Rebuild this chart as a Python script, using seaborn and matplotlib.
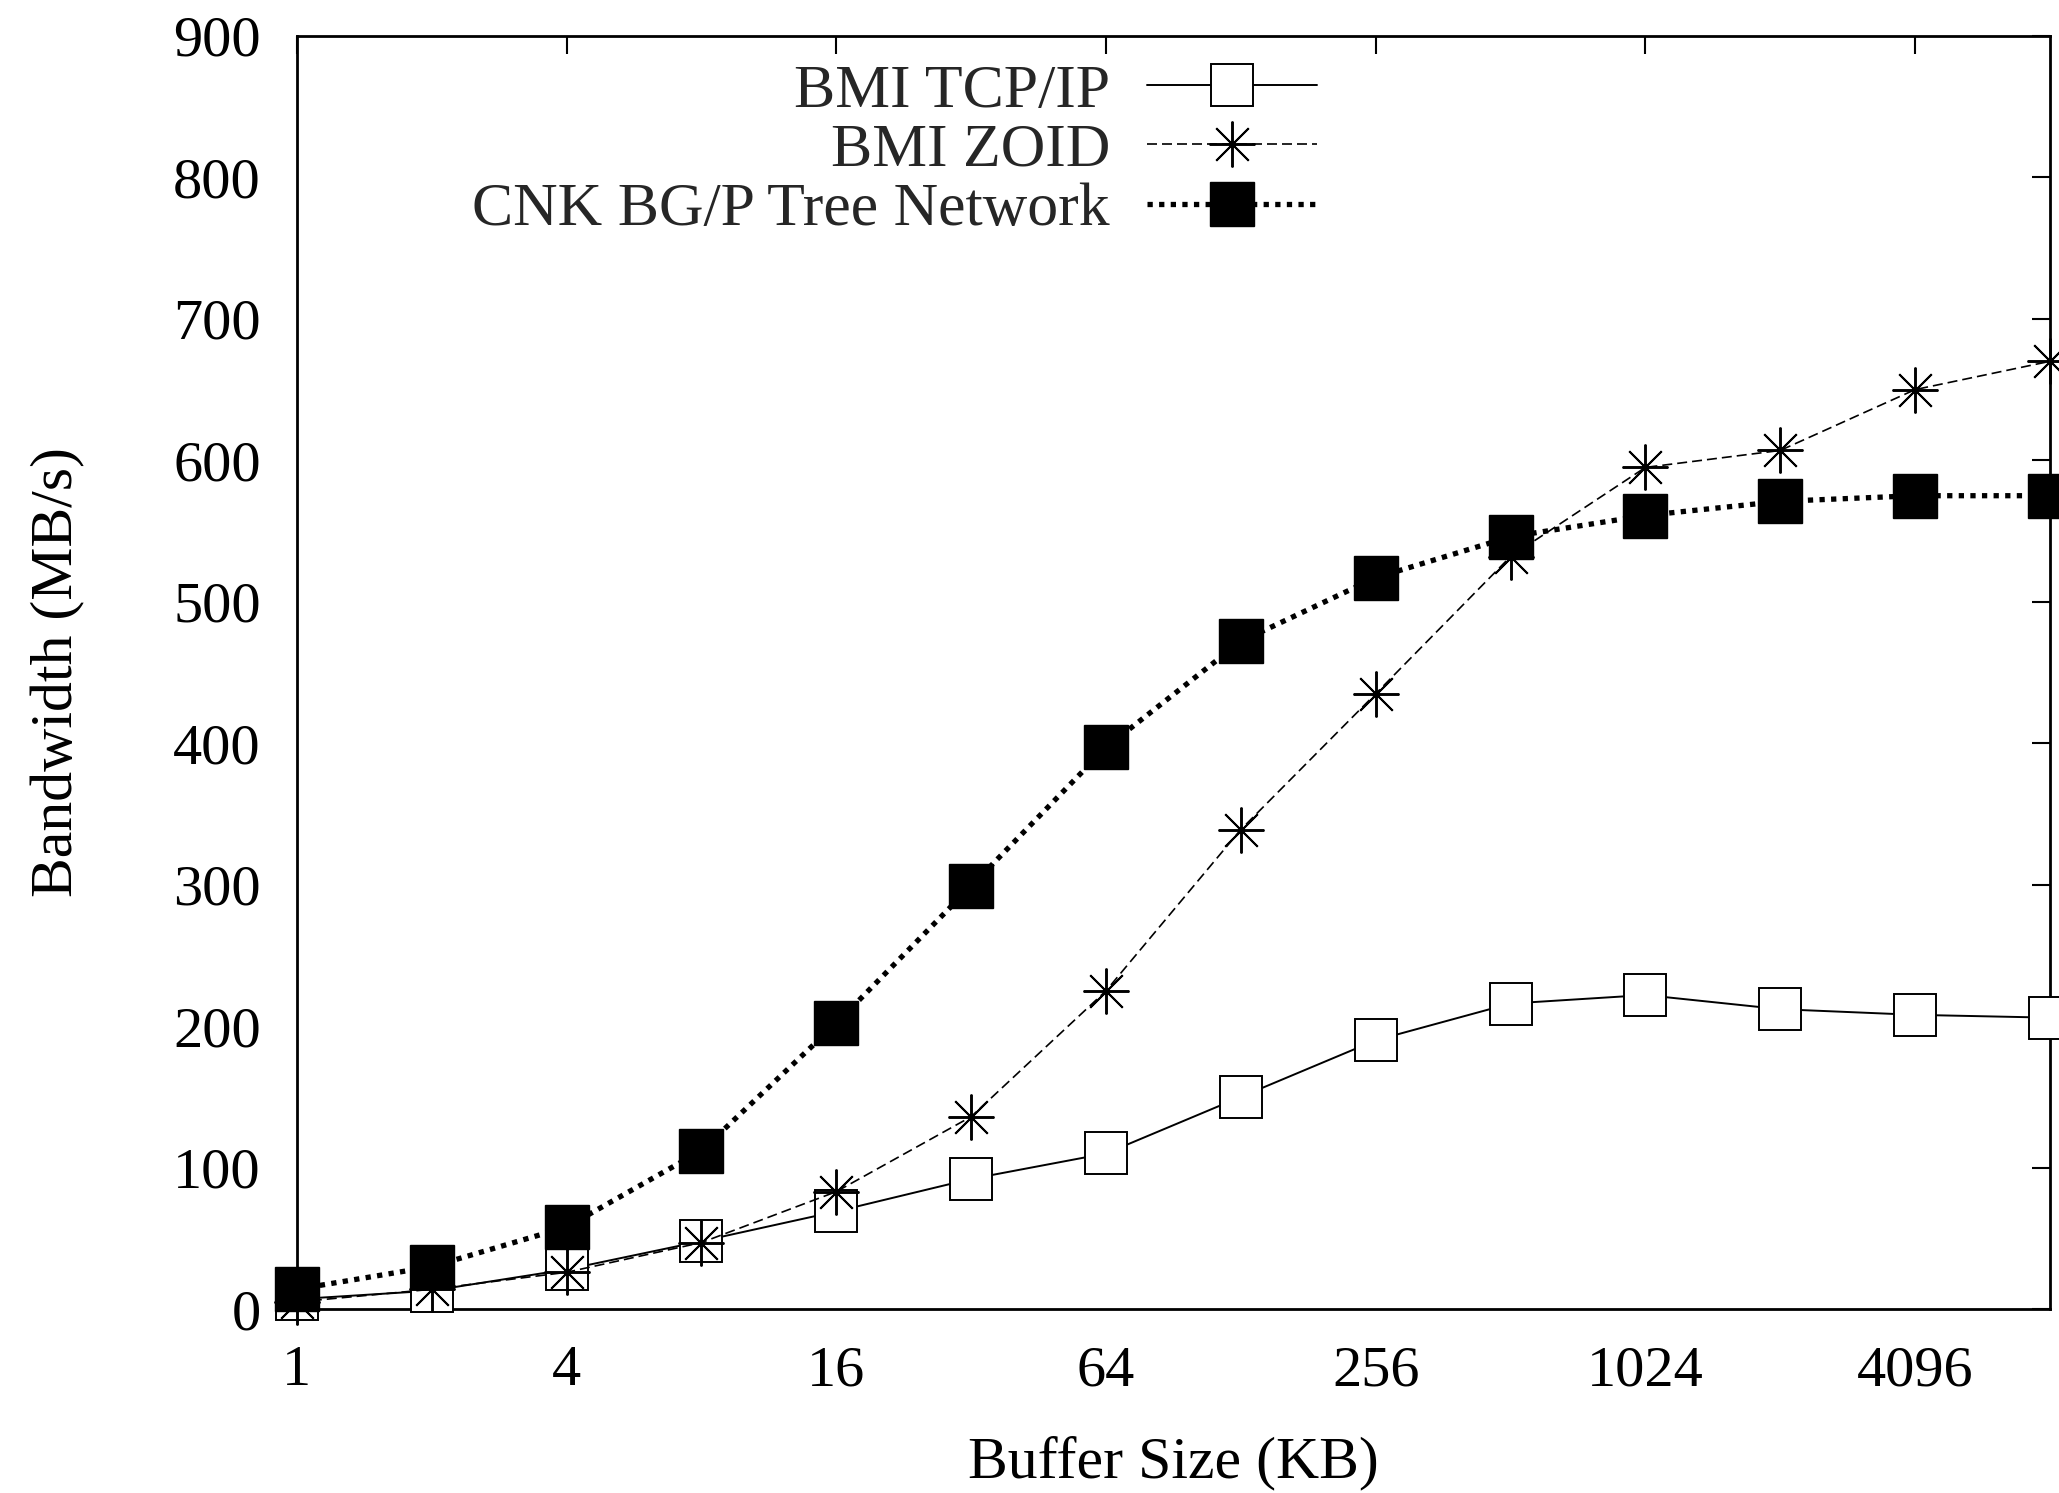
import matplotlib
matplotlib.use("Agg")
import matplotlib.pyplot as plt
import seaborn as sns
import numpy as np
import pandas as pd

sizes_kb = [1, 2, 4, 8, 16, 32, 64, 128, 256, 512, 1024, 2048, 4096, 8192]
bmi_tcp = [7, 13, 28, 48, 69, 92, 110, 150, 190, 216, 222, 212, 208, 206]
bmi_zoid = [5, 14, 26, 47, 83, 136, 225, 339, 435, 532, 595, 607, 650, 670]
cnk_tree = [14, 30, 58, 112, 202, 299, 397, 472, 517, 546, 561, 571, 575, 575]
series_names = ["BMI TCP/IP", "BMI ZOID", "CNK BG/P Tree Network"]
xticks = [1, 4, 16, 64, 256, 1024, 4096]
yticks = [0, 100, 200, 300, 400, 500, 600, 700, 800, 900]

sns.set_theme(style="white")
plt.rcParams["font.family"] = ["Liberation Serif", "DejaVu Serif"]

FS = 42
LFS = 44.5

fig = plt.figure(figsize=(20.59, 14.93), dpi=100)
ax = fig.add_axes([0.1442, 0.1232, 0.8514, 0.8527])

styles = [
    dict(marker="s", linestyle="-", linewidth=1.4, markersize=30,
         markerfacecolor="white", markeredgecolor="black", markeredgewidth=1.4),
    dict(marker=(8, 2, 0), linestyle=(0, (6, 3)), linewidth=1.2, markersize=33,
         markerfacecolor="black", markeredgecolor="black", markeredgewidth=1.4),
    dict(marker="s", linestyle=(0, (1.0, 1.2)), linewidth=3.8, markersize=32,
         markerfacecolor="black", markeredgecolor="black", markeredgewidth=1.0),
]

for name, vals, st in zip(series_names, [bmi_tcp, bmi_zoid, cnk_tree], styles):
    df = pd.DataFrame({"size": sizes_kb, "bw": vals})
    sns.lineplot(data=df, x="size", y="bw", ax=ax, color="black", label=name,
                 clip_on=False, zorder=3, **st)

ax.set_xscale("log", base=2)
ax.set_xlim(1, 8192)
ax.set_ylim(0, 900)
ax.set_xticks(xticks)
ax.set_xticklabels([str(t) for t in xticks])
ax.set_yticks(yticks)
ax.set_yticklabels([str(t) for t in yticks])
ax.minorticks_off()
ax.tick_params(axis="both", which="major", direction="in", length=13, width=1.5,
               top=True, right=True, labelsize=FS, pad=26, color="black",
               labelcolor="black")

for sp in ax.spines.values():
    sp.set_visible(True)
    sp.set_color("black")
    sp.set_linewidth(2.0)

ax.set_xlabel("Buffer Size (KB)", fontsize=43, labelpad=28, color="black")
ax.set_ylabel("Bandwidth (MB/s)", fontsize=43, labelpad=63, color="black")

leg = ax.legend(loc="upper right", bbox_to_anchor=(0.596, 0.998), frameon=False,
                fontsize=LFS, markerfirst=False, handlelength=2.75,
                handletextpad=0.6, labelspacing=0.05, borderaxespad=0.0)
for t in leg.get_texts():
    t.set_ha("right")
leg._legend_box.align = "right"
for vp in leg._legend_handle_box.get_children():
    vp.align = "right"

fig.savefig("out.png", dpi=100, facecolor="white")
